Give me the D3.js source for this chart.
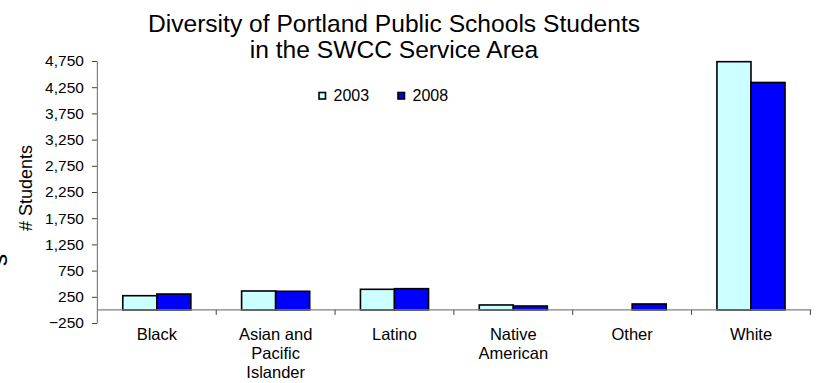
<!DOCTYPE html>
<html>
<head>
<meta charset="utf-8">
<script src="https://cdn.jsdelivr.net/npm/d3@7"></script>
<style>
  html, body { margin: 0; padding: 0; background: #fff; }
  svg { display: block; font-family: "Liberation Sans", Arial, sans-serif; }
</style>
</head>
<body>
<svg id="chart" width="817" height="383"></svg>
<script>
const categories = ["Black", "Asian and Pacific Islander", "Latino", "Native American", "Other", "White"];
const categoryLines = [["Black"], ["Asian and", "Pacific", "Islander"], ["Latino"], ["Native", "American"], ["Other"], ["White"]];
const seriesNames = ["2003", "2008"];
const values2003 = [271, 361, 393, 94, 0, 4737];
const values2008 = [303, 355, 405, 74, 113, 4340];
const yTicks = [-250, 250, 750, 1250, 1750, 2250, 2750, 3250, 3750, 4250, 4750];
const colors = ["#CCFFFF", "#0000FF"];
const titleLines = ["Diversity of Portland Public Schools Students", "in the SWCC Service Area"];
const yTitle = "# Students";

const svg = d3.select("#chart");
const plotLeft = 97.4, plotRight = 810.4, plotTop = 61, plotBottom = 323;

const x0 = d3.scaleBand().domain(categories).range([plotLeft, plotRight]).padding(0);
const gap = x0.bandwidth() * 0.2135;
const x1 = d3.scaleBand().domain(seriesNames).range([gap, x0.bandwidth() - gap]).padding(0);
const y = d3.scaleLinear().domain([-250, 4750]).range([plotBottom, plotTop]);

const rows = categories.map((c, i) => ({ cat: c, vals: [values2003[i], values2008[i]] }));

// bars
const g = svg.append("g");
rows.forEach(r => {
  r.vals.forEach((v, j) => {
    if (v === 0) return;
    g.append("rect")
      .attr("x", x0(r.cat) + x1(seriesNames[j]))
      .attr("y", y(Math.max(v, 0)))
      .attr("width", x1.bandwidth())
      .attr("height", Math.abs(y(v) - y(0)))
      .attr("fill", colors[j])
      .attr("stroke", "#000")
      .attr("stroke-width", 1.6);
  });
});

// y axis
const yAxis = d3.axisLeft(y).tickValues(yTicks).tickFormat(d3.format(",")).tickSize(5).tickSizeOuter(0);
const ya = svg.append("g").attr("transform", `translate(${plotLeft - 0.5},0)`).call(yAxis);
ya.select(".domain").attr("stroke", "#808080").attr("stroke-width", 1.2);
ya.selectAll(".tick line").attr("stroke", "#404040");
ya.selectAll(".tick text").attr("x", -13).attr("font-size", "15.5px").attr("fill", "#000")
  .attr("font-family", "Liberation Sans, Arial, sans-serif");

// x axis line at zero
const xa = svg.append("g").attr("transform", `translate(0,${y(0)})`);
xa.append("line").attr("x1", plotLeft - 0.5).attr("x2", plotRight + 1).attr("y1", 0).attr("y2", 0)
  .attr("stroke", "#808080").attr("stroke-width", 1.2);
categories.forEach(c => {
  const xb = x0(c) + x0.bandwidth();
  xa.append("line").attr("x1", xb).attr("x2", xb).attr("y1", 0).attr("y2", 5)
    .attr("stroke", "#404040").attr("stroke-width", 1);
});
categories.forEach((c, i) => {
  const t = xa.append("text").attr("text-anchor", "middle").attr("font-size", "16.5px").attr("fill", "#000")
    .attr("x", x0(c) + x0.bandwidth() / 2).attr("y", 30);
  categoryLines[i].forEach((ln, k) => {
    t.append("tspan").attr("x", x0(c) + x0.bandwidth() / 2).attr("y", 30 + k * 19).text(ln);
  });
});

// title
titleLines.forEach((ln, k) => {
  svg.append("text").attr("x", 394).attr("y", 31.5 + k * 26).attr("text-anchor", "middle")
    .attr("font-size", "24.6px").attr("fill", "#000").text(ln);
});

// y title
svg.append("text").attr("transform", "translate(32,188) rotate(-90)").attr("text-anchor", "middle")
  .attr("font-size", "18px").attr("fill", "#000").text(yTitle);
// clipped remnant glyph at left edge
svg.append("text").attr("transform", "translate(6.5,260) rotate(-90)").attr("text-anchor", "middle")
  .attr("font-size", "24px").attr("fill", "#000").text("s");

// legend
const legendX = [319, 398];
seriesNames.forEach((s, j) => {
  svg.append("rect").attr("x", legendX[j]).attr("y", 92.5).attr("width", 6.5).attr("height", 6.5)
    .attr("fill", colors[j]).attr("stroke", "#000").attr("stroke-width", 1.6);
  svg.append("text").attr("x", legendX[j] + 14.5).attr("y", 100.7).attr("font-size", "16px")
    .attr("fill", "#000").text(s);
});
</script>
</body>
</html>
